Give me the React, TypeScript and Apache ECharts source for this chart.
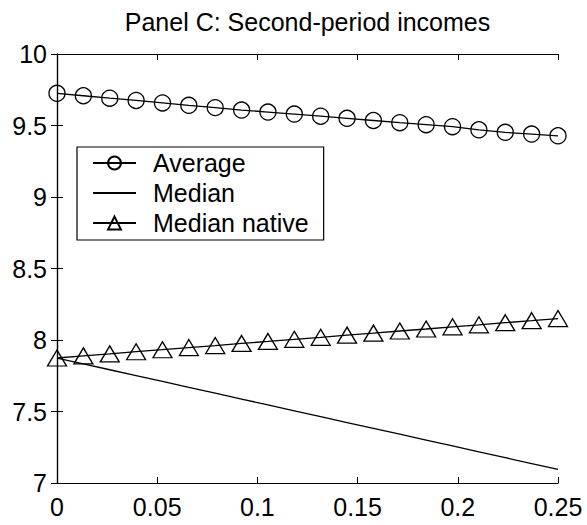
import React, { useEffect, useRef } from "react";
import * as echarts from "echarts";

const xValues = [
  0, 0.013158, 0.026316, 0.039474, 0.052632, 0.065789, 0.078947, 0.092105, 0.105263, 0.118421,
  0.131579, 0.144737, 0.157895, 0.171053, 0.184211, 0.197368, 0.210526, 0.223684, 0.236842, 0.25,
];
const averageValues = [
  9.725, 9.708, 9.691, 9.675, 9.658, 9.641, 9.625, 9.608, 9.594, 9.58,
  9.565, 9.55, 9.535, 9.52, 9.506, 9.492, 9.47, 9.452, 9.44, 9.428,
];
const medianValues = [
  7.874, 7.833, 7.792, 7.751, 7.71, 7.669, 7.628, 7.587, 7.546, 7.505,
  7.464, 7.423, 7.382, 7.341, 7.3, 7.259, 7.218, 7.177, 7.136, 7.095,
];
const medianNativeValues = [
  7.874, 7.889, 7.903, 7.918, 7.932, 7.947, 7.961, 7.976, 7.99, 8.005,
  8.019, 8.034, 8.048, 8.063, 8.077, 8.092, 8.106, 8.121, 8.135, 8.15,
];
const seriesNames = ["Average", "Median", "Median native"];
const titleText = "Panel C: Second-period incomes";

const FONT = "Liberation Sans, Arial, sans-serif";

export default function App() {
  const ref = useRef<HTMLDivElement>(null);
  useEffect(() => {
    document.body.style.margin = "0";
    const chart = echarts.init(ref.current!, null, { renderer: "svg" });
    const pair = (ys: number[]) => xValues.map((x, i) => [x, ys[i]]);
    const gridLeft = 57;
    const gridRight = 29;
    const axisCommon = {
      axisLine: { show: true, lineStyle: { color: "#000", width: 1.2 } },
      axisTick: { show: true, inside: true, length: 6, lineStyle: { color: "#000", width: 1 } },
      splitLine: { show: false },
    };
    const markerStyle = {
      color: "rgba(0,0,0,0)",
      borderColor: "#000",
      borderWidth: 1.3,
    };
    chart.setOption({
      animation: false,
      backgroundColor: "#fff",
      textStyle: { fontFamily: FONT },
      graphic: [
        {
          type: "text",
          x: gridLeft + (587 - gridLeft - gridRight) / 2,
          y: 22,
          style: {
            text: titleText,
            fontSize: 25,
            fontFamily: FONT,
            fill: "#000",
            textAlign: "center",
            textVerticalAlign: "middle",
          },
        },
      ],
      grid: { left: gridLeft, right: gridRight, top: 54, bottom: 42 },
      legend: {
        orient: "vertical",
        left: 77,
        top: 147,
        padding: [1, 15, 2, 15],
        itemGap: 0,
        itemWidth: 43,
        itemHeight: 16,
        backgroundColor: "#fff",
        borderColor: "#000",
        borderWidth: 1.2,
        textStyle: {
          fontSize: 25,
          fontFamily: FONT,
          color: "#000",
          lineHeight: 30,
          padding: [0, 0, 0, 12],
        },
        data: [
          { name: seriesNames[0] },
          {
            name: seriesNames[1],
            itemStyle: { color: "rgba(0,0,0,0)", borderColor: "rgba(0,0,0,0)", borderWidth: 0 },
          },
          { name: seriesNames[2] },
        ],
      },
      xAxis: [
        {
          type: "value",
          min: 0,
          max: 0.25,
          interval: 0.05,
          position: "bottom",
          ...axisCommon,
          axisLabel: { color: "#000", fontSize: 25, fontFamily: FONT, margin: 11 },
        },
        {
          type: "value",
          min: 0,
          max: 0.25,
          interval: 0.05,
          position: "top",
          ...axisCommon,
          axisLabel: { show: false },
        },
      ],
      yAxis: [
        {
          type: "value",
          min: 7,
          max: 10,
          interval: 0.5,
          position: "left",
          ...axisCommon,
          axisLabel: { color: "#000", fontSize: 25, fontFamily: FONT, margin: 10 },
        },
        {
          type: "value",
          min: 7,
          max: 10,
          interval: 0.5,
          position: "right",
          ...axisCommon,
          axisLabel: { show: false },
        },
      ],
      series: [
        {
          name: seriesNames[0],
          type: "line",
          data: pair(averageValues),
          symbol: "circle",
          symbolSize: 16,
          showAllSymbol: true,
          clip: false,
          lineStyle: { color: "#000", width: 1.3 },
          itemStyle: markerStyle,
        },
        {
          name: seriesNames[1],
          type: "line",
          data: pair(medianValues),
          symbol: "none",
          clip: false,
          lineStyle: { color: "#000", width: 1.3 },
          itemStyle: { color: "#000" },
        },
        {
          name: seriesNames[2],
          type: "line",
          data: pair(medianNativeValues),
          symbol: "triangle",
          symbolSize: [19, 16],
          showAllSymbol: true,
          clip: false,
          lineStyle: { color: "#000", width: 1.3 },
          itemStyle: markerStyle,
        },
      ],
    });
    return () => chart.dispose();
  }, []);
  return <div ref={ref} style={{ width: 587, height: 525 }} />;
}
